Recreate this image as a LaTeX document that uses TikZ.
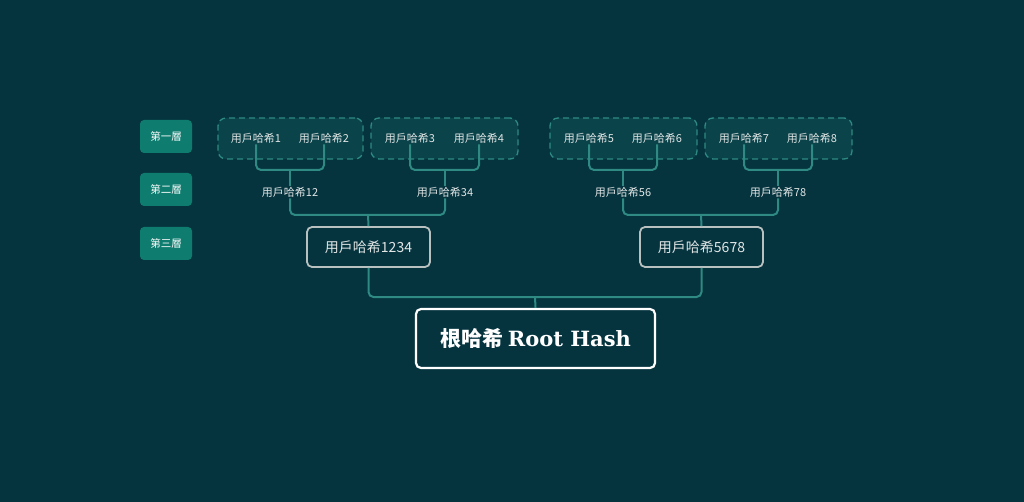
\documentclass[tikz,border=0pt]{standalone}
\usepackage{fontspec}
\setmainfont{Noto Sans CJK TC}
\newfontfamily\slab{DejaVu Serif}
\definecolor{bg}{HTML}{05343F}
\definecolor{teal}{HTML}{0E7C6F}
\definecolor{conn}{HTML}{2E8A82}
\definecolor{grpfill}{HTML}{0A434A}
\definecolor{txt}{HTML}{E2E6E6}
\definecolor{bord}{HTML}{B8C0C0}
\tikzset{
  lvl/.style={fill=teal, rounded corners=4pt, minimum width=52pt, minimum height=33pt, text=white, font=\fontsize{10.5}{12}\selectfont, inner sep=0pt},
  grp/.style={draw=conn, fill=grpfill, dash pattern=on 6pt off 4pt, line width=1.3pt, rounded corners=8pt, minimum height=41pt, inner sep=0pt},
  leaf/.style={text=txt, font=\fontsize{11}{13}\selectfont, inner sep=1pt},
  mid/.style={text=txt, font=\fontsize{11}{13}\selectfont, inner sep=1pt},
  hbox/.style={draw=bord, line width=1.8pt, rounded corners=5pt, minimum width=123pt, minimum height=40pt, text=txt, font=\fontsize{14}{16}\selectfont, inner sep=0pt},
  rootbox/.style={draw=white, line width=2.2pt, rounded corners=5pt, minimum width=239pt, minimum height=59pt, text=white, font=\fontsize{21}{24}\selectfont\bfseries, inner sep=0pt},
  cn/.style={draw=conn, line width=2pt, rounded corners=5pt},
}
\begin{document}
\begin{tikzpicture}[x=1pt,y=-1pt]
\fill[bg] (0,0) rectangle (1024,502);
\useasboundingbox (0,0) rectangle (1024,502);
% level labels
\node[lvl] (L1) at (166,136.5) {第一層};
\node[lvl] (L2) at (166,189.5) {第二層};
\node[lvl] (L3) at (166,243.5) {第三層};
% group boxes
\node[grp, minimum width=145pt] (g1) at (290.5,138.5) {};
\node[grp, minimum width=147pt] (g2) at (444.5,138.5) {};
\node[grp, minimum width=147pt] (g3) at (623.5,138.5) {};
\node[grp, minimum width=147pt] (g4) at (778.5,138.5) {};
% leaves
\node[leaf] (l1) at (256,138) {用戶哈希1};
\node[leaf] (l2) at (324,138) {用戶哈希2};
\node[leaf] (l3) at (410,138) {用戶哈希3};
\node[leaf] (l4) at (479,138) {用戶哈希4};
\node[leaf] (l5) at (589,138) {用戶哈希5};
\node[leaf] (l6) at (657,138) {用戶哈希6};
\node[leaf] (l7) at (744,138) {用戶哈希7};
\node[leaf] (l8) at (812,138) {用戶哈希8};
% level 2
\node[mid] (m12) at (290,192) {用戶哈希12};
\node[mid] (m34) at (445,192) {用戶哈希34};
\node[mid] (m56) at (623,192) {用戶哈希56};
\node[mid] (m78) at (778,192) {用戶哈希78};
% level 3
\node[hbox] (b1234) at (368.5,247) {用戶哈希1234};
\node[hbox] (b5678) at (701.5,247) {用戶哈希5678};
% root
\node[rootbox] (root) at (535.5,338.5) {根哈希 {\slab Root Hash}};
% junctions
\coordinate (j12) at (290,170);
\coordinate (j34) at (445,170);
\coordinate (j56) at (623,170);
\coordinate (j78) at (778,170);
\coordinate (j1234) at (368,215);
\coordinate (j5678) at (701,215);
\coordinate (jr) at (535,297);
% connectors
\draw[cn] (l1.south) |- (j12) -| (l2.south);
\draw[cn] (j12) -- (m12.north);
\draw[cn] (l3.south) |- (j34) -| (l4.south);
\draw[cn] (j34) -- (m34.north);
\draw[cn] (l5.south) |- (j56) -| (l6.south);
\draw[cn] (j56) -- (m56.north);
\draw[cn] (l7.south) |- (j78) -| (l8.south);
\draw[cn] (j78) -- (m78.north);
\draw[cn] (m12.south) |- (j1234) -| (m34.south);
\draw[cn] (j1234) -- (b1234.north);
\draw[cn] (m56.south) |- (j5678) -| (m78.south);
\draw[cn] (j5678) -- (b5678.north);
\draw[cn] (b1234.south) |- (jr) -| (b5678.south);
\draw[cn] (jr) -- (root.north);
\end{tikzpicture}
\end{document}
